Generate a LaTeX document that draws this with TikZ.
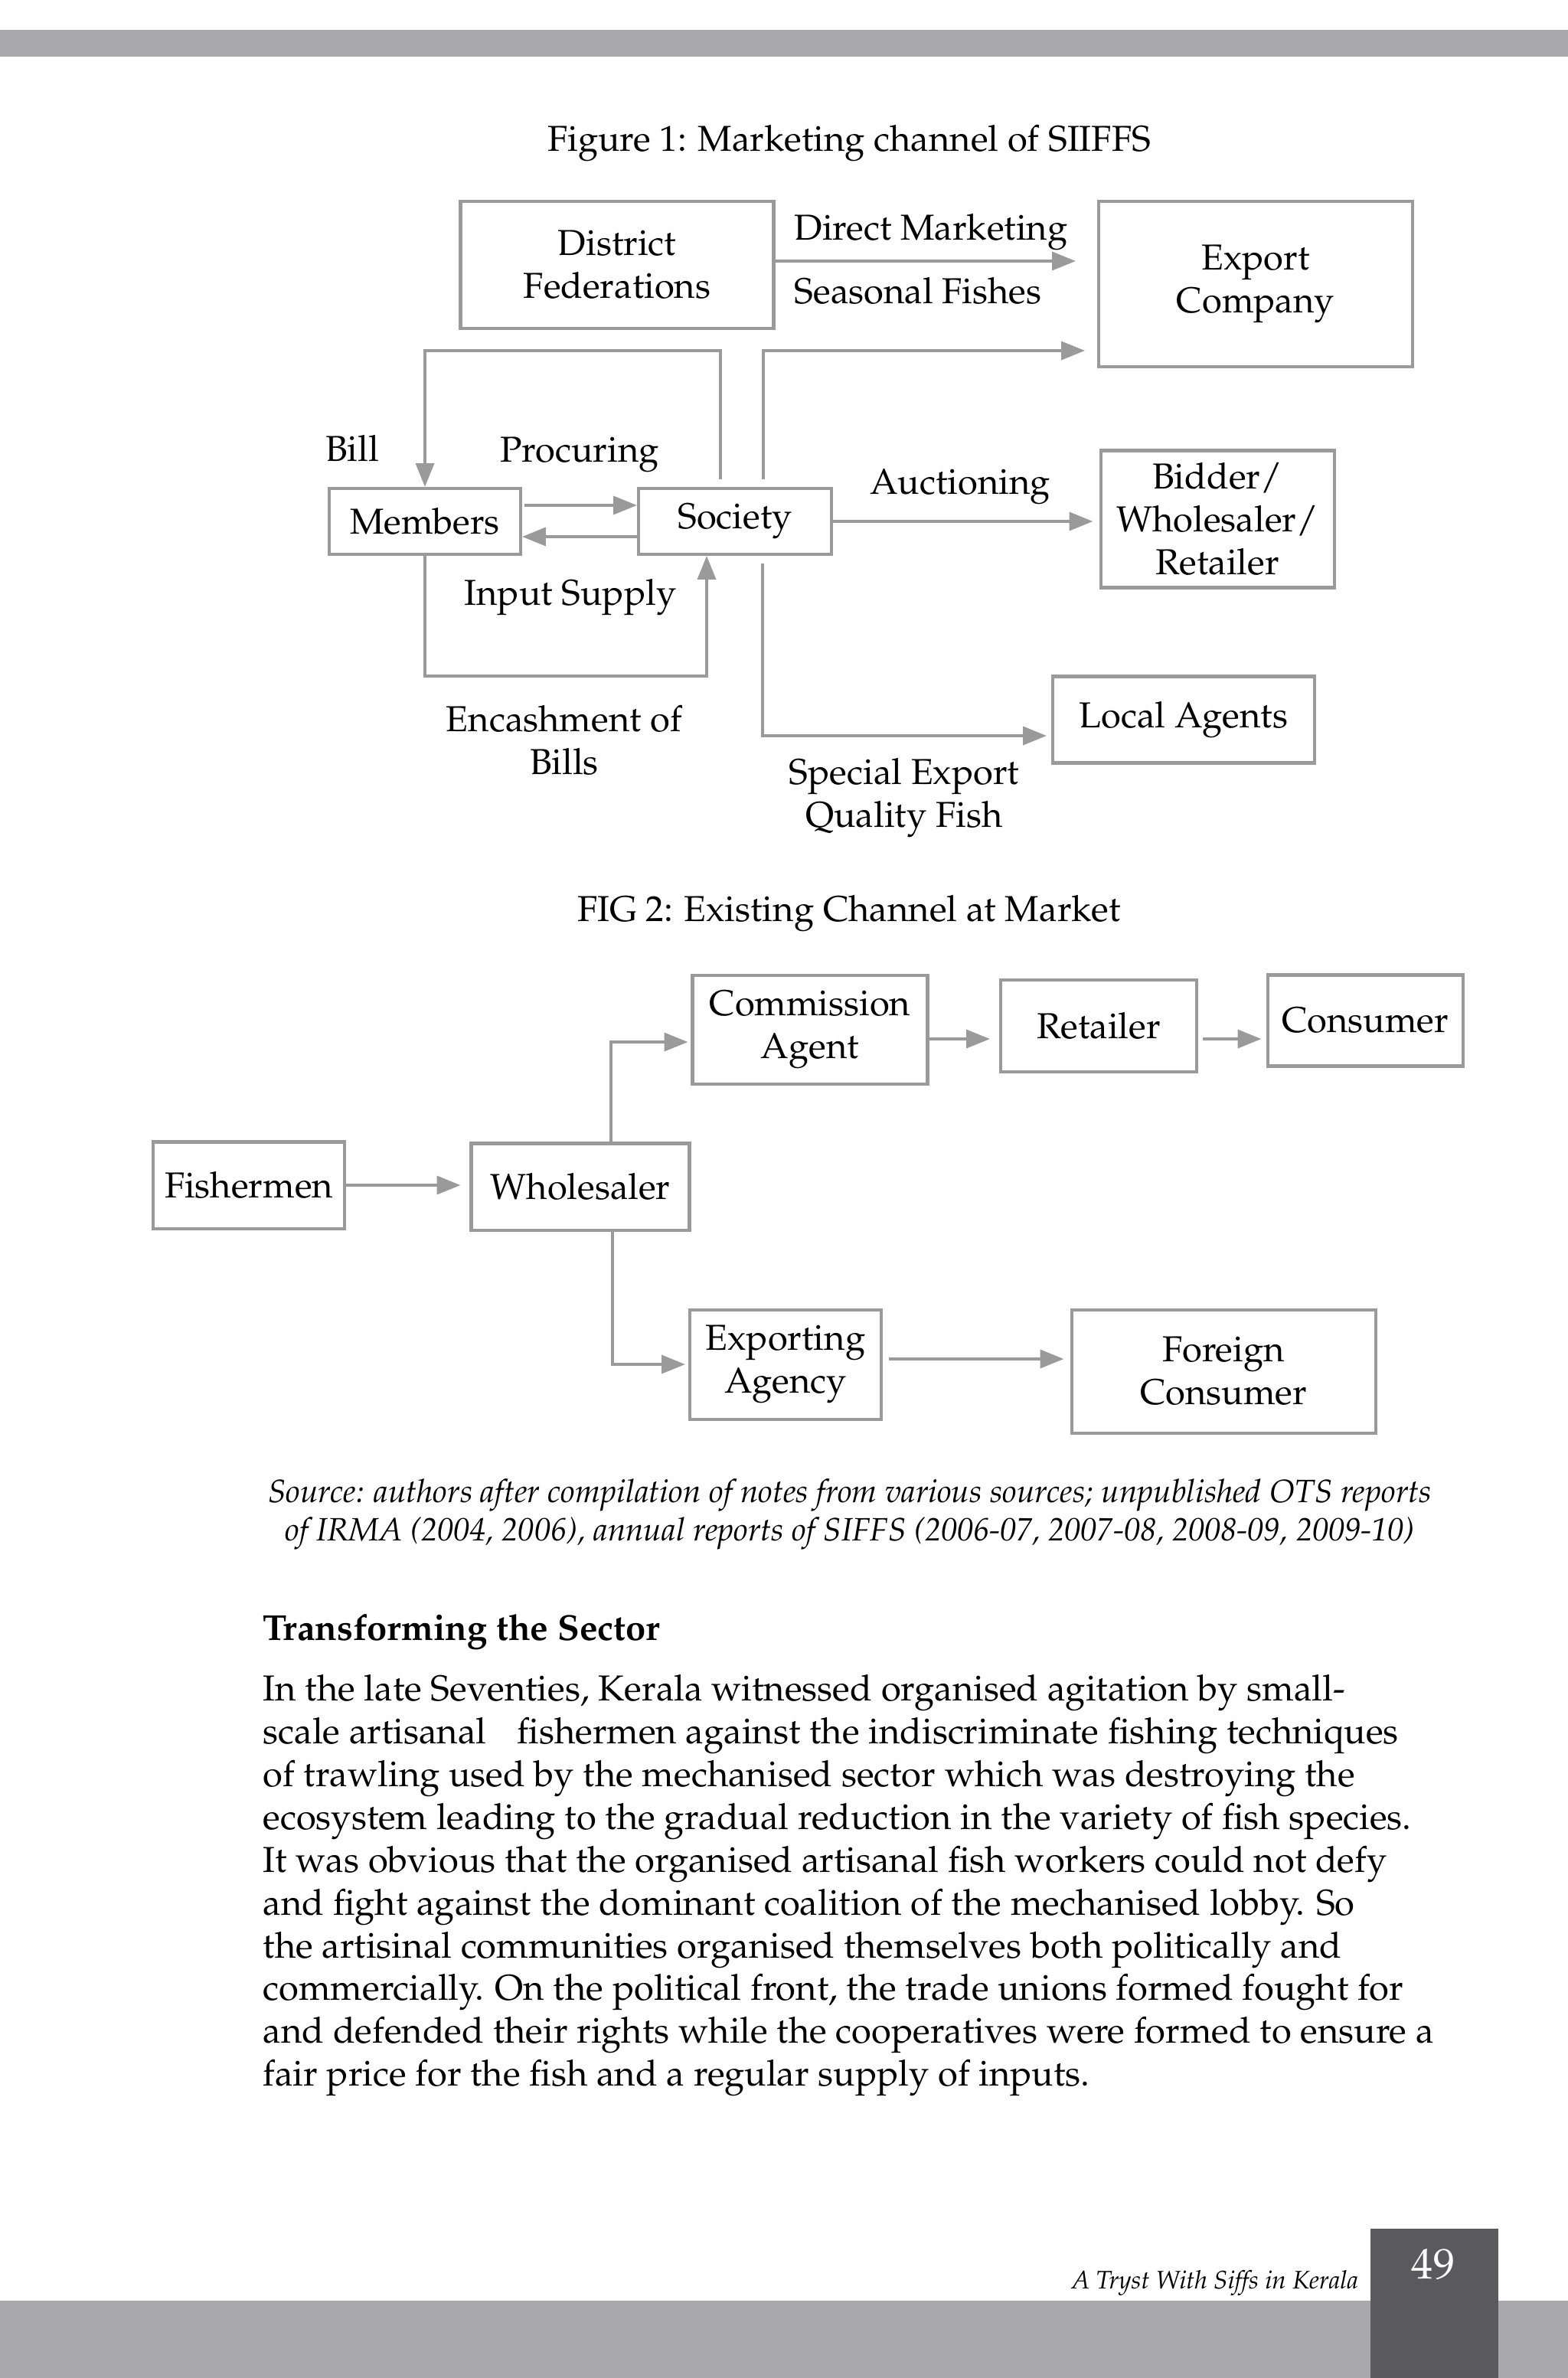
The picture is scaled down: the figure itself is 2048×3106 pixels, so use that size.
\documentclass[tikz,border=0pt]{standalone}
\usepackage[T1]{fontenc}
\usepackage{mathpazo}
\usetikzlibrary{positioning, arrows.meta}
\definecolor{linegray}{HTML}{9A9A9A}
\definecolor{bargray}{HTML}{A8A7AB}
\definecolor{pagegray}{HTML}{5A595E}

\begin{document}
\begin{tikzpicture}[x=0.1mm, y=-0.1mm,
    every node/.style={font=\fontsize{13.4}{15.9}\selectfont, inner sep=0pt},
    chanbox/.style={draw=linegray, line width=1.15pt, align=center},
    flow/.style={-{Triangle[length=8.8pt, width=6.8pt]}, draw=linegray, line width=1.1pt},
    lbl/.style={align=center}
]
\useasboundingbox (0,0) rectangle (2048,3106);

% Page bars
\fill[bargray] (0,39) rectangle (2048,74);
\fill[bargray] (0,3005) rectangle (2048,3106);
\fill[pagegray] (1790,2911) rectangle (1957,3106);

% Figure 1
\node (fig1) at (1109,187) {Figure 1: Marketing channel of SIIFFS};

\node[chanbox, minimum width=40.9mm, minimum height=16.6mm] (dist) at (806,346) {District\\Federations};
\node[chanbox, minimum width=41mm, minimum height=21.6mm] (export) at (1640,371) {Export\\Company};
\node[chanbox, minimum width=25mm, minimum height=8.6mm] (mem) at (555,681) {Members};
\node[chanbox, minimum width=25.2mm, minimum height=8.6mm] (soc) at (960,681) {Society};
\node[chanbox, minimum width=30.5mm, minimum height=17.9mm] (bidder) at (1590,678) {Bidder/\\Wholesaler/\\Retailer};
\node[chanbox, minimum width=34.2mm, minimum height=11.3mm] (agents) at (1546,940) {Local Agents};

\node[anchor=west] (direct) at (1037,303) {Direct Marketing};
\node[anchor=west] (seasonal) at (1037,380) {Seasonal Fishes};
\node (bill) at (460,586) {Bill};
\node (procuring) at (757,594) {Procuring};
\node (input) at (745,780) {Input Supply};
\node[lbl] (encash) at (737,967) {Encashment of\\Bills};
\node (auction) at (1254,636) {Auctioning};
\node[lbl] (special) at (1181,1042) {Special Export\\Quality Fish};

\coordinate (billtop) at (941,458);
\coordinate (exptip) at (1417,458);
\coordinate (cashbot) at (923,883);
\coordinate (spectip) at (1367,961);

\draw[flow] (dist.east |- 0,341) -- (1405,341);
\draw[flow, shorten <=1mm] ([xshift=3.7mm]soc.north) |- (exptip);
\draw[flow, shorten <=1mm] ([xshift=-1.9mm]soc.north) -- (billtop) -| (mem.north);
\draw[flow, shorten <=0.3mm] ([yshift=2.1mm]mem.east) -- ([yshift=2.1mm]soc.west);
\draw[flow] ([yshift=-2mm]soc.west) -- ([yshift=-2mm]mem.east);
\draw[flow] (mem.south) |- (cashbot) -- (cashbot |- soc.south);
\draw[flow, shorten >=0.8mm] (soc.east) -- (soc.east -| bidder.west);
\draw[flow, shorten <=1mm] ([xshift=3.6mm]soc.south) |- (spectip);

% Figure 2
\node (fig2) at (1109,1193) {FIG 2: Existing Channel at Market};

\node[chanbox, minimum width=25mm, minimum height=11.3mm] (fish) at (325,1548) {Fishermen};
\node[chanbox, minimum width=28.5mm, minimum height=11.3mm] (whole) at (758,1550) {Wholesaler};
\node[chanbox, minimum width=30.7mm, minimum height=14.2mm] (comm) at (1058,1345) {Commission\\Agent};
\node[chanbox, minimum width=25.6mm, minimum height=12mm] (ret) at (1435,1340) {Retailer};
\node[chanbox, minimum width=25.5mm, minimum height=11.9mm] (cons) at (1783,1333) {Consumer};
\node[chanbox, minimum width=25mm, minimum height=14.3mm] (expag) at (1026,1782) {Exporting\\Agency};
\node[chanbox, minimum width=39.7mm, minimum height=16.1mm] (foreign) at (1598,1791) {Foreign\\Consumer};

\draw[flow, shorten >=1.2mm] (fish.east) -- (fish.east -| whole.west);
\draw[flow, shorten >=0.4mm] ([xshift=4mm]whole.north) |- ([yshift=-1.6mm]comm.west);
\draw[flow, shorten >=0.4mm] ([xshift=4.2mm]whole.south) |- (expag.west);
\draw[flow, shorten >=1.2mm] ([yshift=-1.2mm]comm.east) -- ([yshift=-1.2mm]comm.east -| ret.west);
\draw[flow, shorten <=0.6mm, shorten >=0.6mm] ([yshift=-1.7mm]ret.east) -- ([yshift=-1.7mm]ret.east -| cons.west);
\draw[flow, shorten <=0.8mm, shorten >=0.8mm] ([yshift=0.7mm]expag.east) -- ([yshift=0.7mm]expag.east -| foreign.west);

% Source and text
\node[lbl, font=\fontsize{12}{14.2}\selectfont\itshape] (source) at (1110,1978)
  {Source: authors after compilation of notes from various sources; unpublished OTS reports\\
   of IRMA (2004, 2006), annual reports of SIFFS (2006-07, 2007-08, 2008-09, 2009-10)};

\node[anchor=west, font=\fontsize{13.4}{15.9}\selectfont\bfseries] (head) at (343,2131) {Transforming the Sector};

\node[anchor=north west, align=left] (body) at (343,2187)
  {In the late Seventies, Kerala witnessed organised agitation by small-\\
   scale artisanal\hspace{0.6em} fishermen against the indiscriminate fishing techniques\\
   of trawling used by the mechanised sector which was destroying the\\
   ecosystem leading to the gradual reduction in the variety of fish species.\\
   It was obvious that the organised artisanal fish workers could not defy\\
   and fight against the dominant coalition of the mechanised lobby. So\\
   the artisinal communities organised themselves both politically and\\
   commercially. On the political front, the trade unions formed fought for\\
   and defended their rights while the cooperatives were formed to ensure a\\
   fair price for the fish and a regular supply of inputs.};

% Footer
\node[anchor=east, font=\fontsize{9.4}{11}\selectfont\itshape] (running) at (1775,2982) {A Tryst With Siffs in Kerala};
\node[text=white, font=\fontsize{16}{18}\selectfont] (page) at (1872,2958) {49};

\end{tikzpicture}
\end{document}
